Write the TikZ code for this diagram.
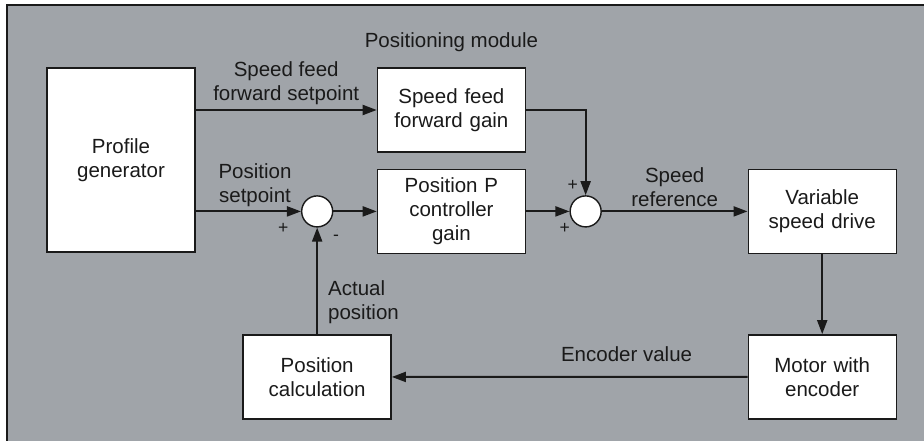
\documentclass[tikz,border=0pt]{standalone}
\usepackage{fontspec}
\setmainfont{Liberation Sans}
\usetikzlibrary{positioning,arrows.meta}

\definecolor{panelgray}{RGB}{160,164,169}
\definecolor{inkdark}{RGB}{26,26,26}

\begin{document}
\begin{tikzpicture}[
	font=\fontsize{17.5}{20.5}\selectfont,
	text=inkdark,
	block/.style={draw=inkdark, fill=white, line width=1.2pt,
		minimum width=4.44cm, minimum height=2.52cm,
		text width=4.2cm, align=center},
	sumpt/.style={draw=inkdark, fill=white, circle, line width=1.2pt,
		minimum size=0.93cm, inner sep=0pt},
	sign/.style={font=\fontsize{15}{17}\selectfont, inner sep=0pt},
	lbl/.style={align=center, inner sep=0.12cm},
	sig/.style={draw=inkdark, line width=1.7pt,
		-{Triangle[length=0.42cm, width=0.3cm]}}
	]
\useasboundingbox (0,0) rectangle (27.72,-13.23);

% panel
\fill[panelgray] (0.21,-0.15) rectangle (27.72,-13.23);
\draw[inkdark, line width=1.5pt] (0.21,-13.23) -- (0.21,-0.15) -- (27.72,-0.15);

% blocks
\node[block, minimum height=5.52cm] (prof) at (3.63,-4.80) {Profile \\ generator};
\node[block, right=5.43cm of prof.north east, anchor=north west] (ffgain) {Speed feed \\ forward gain};
\node[block, below=0.48cm of ffgain] (pgain) {Position P \\ controller \\ gain};
\node[sumpt, left=1.3cm of pgain] (sum1) {};
\node[sumpt, right=1.3cm of pgain] (sum2) {};
\node[block, right=4.37cm of sum2] (vsd) {Variable \\ speed drive};
\node[block, below=2.4cm of vsd] (motor) {Motor with \\ encoder};
\node[block, below=3.2cm of sum1] (poscalc) {Position \\ calculation};

\node[inner sep=0pt, above=0.45cm of ffgain] (module) {Positioning module};

% signs at the summing points
\node[sign] (s1a) at ([shift={(-1.02,-0.52)}]sum1.center) {+};
\node[sign] (s1b) at ([shift={(0.57,-0.78)}]sum1.center) {-};
\node[sign] (s2a) at ([shift={(-0.39,0.78)}]sum2.center) {+};
\node[sign] (s2b) at ([shift={(-0.63,-0.52)}]sum2.center) {+};

% signals
\draw[sig] (prof.east |- ffgain) -- (ffgain)
	node[lbl, midway, above] {Speed feed \\ forward setpoint};
\draw[sig] (prof.east |- sum1) -- (sum1)
	node[lbl, midway, above, xshift=0.2cm] {Position \\ setpoint};
\draw[sig] (sum1) -- (pgain);
\draw[sig] (pgain) -- (sum2);
\draw[sig] (ffgain.east) -| (sum2.north);
\draw[sig] (sum2) -- (vsd)
	node[lbl, midway, above] {Speed \\ reference};
\draw[sig] (vsd) -- (motor);
\draw[sig] (motor) -- (poscalc)
	node[lbl, pos=0.34, above, inner sep=0.42cm] {Encoder value};
\draw[sig] (poscalc) -- (sum1)
	node[lbl, pos=0, above right, align=left, inner sep=0.3cm] {Actual \\ position};
\end{tikzpicture}
\end{document}
